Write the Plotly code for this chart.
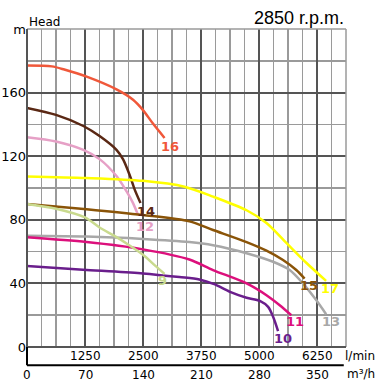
import plotly.graph_objects as go

# ---- data (Q in m3/h, H in m) ----
names = ["16", "14", "12", "17", "15", "13", "11", "10", "9"]
colors = ["#f0583a", "#5a2814", "#e6a0c6", "#ffff00", "#8a5408", "#a8a8a8", "#dc107c", "#6a1e8c", "#c9da8e"]

q16 = [0, 30, 45, 72, 108, 128, 140, 152, 166]
h16 = [177, 176.5, 174.5, 170, 162, 155.5, 149, 140.5, 131.5]
q14 = [0, 35, 68, 88, 108, 116, 124, 130, 137]
h14 = [150.4, 146, 139, 132.5, 124, 118, 108, 99, 90.5]
q12 = [0, 35, 68, 88, 108, 120, 128, 134]
h12 = [132, 129.3, 124, 118, 107.5, 98, 90.5, 83]
q17 = [0, 72, 140, 190, 224.5, 265, 289, 313, 337, 361]
h17 = [107.3, 106.3, 104.5, 100.8, 94.6, 86, 78, 65.5, 53, 41.6]
q15 = [0, 72, 140, 196, 224.5, 265, 289, 309, 325, 335]
h15 = [90, 86.7, 83, 79, 73.6, 66, 60.6, 54.7, 48.4, 43]
q13 = [0, 72, 140, 196, 224.5, 265, 297, 317, 333, 349, 361]
h13 = [70, 69.5, 68, 66, 64, 59, 53.6, 48.4, 40, 29.5, 20.6]
q11 = [0, 72, 140, 196, 224.5, 265, 289, 305, 319]
h11 = [69, 66, 61.4, 55, 48.4, 40, 32.6, 26.3, 20]
q10 = [0, 72, 140, 184, 208, 226, 245, 265, 281, 291, 297, 303]
h10 = [51, 48.4, 46.3, 44, 42.5, 39.5, 34.7, 31, 29, 25.2, 19, 10]
q9 = [0, 35, 70, 88, 105, 122, 140, 155, 166]
h9 = [90, 87, 81.5, 75, 70, 64.5, 58, 51, 46]

qs = [q16, q14, q12, q17, q15, q13, q11, q10, q9]
hs = [h16, h14, h12, h17, h15, h13, h11, h10, h9]

# curve label positions (Q, H)
label_q = [172, 144, 142, 366, 340, 366.5, 323.7, 309, 164]
label_h = [126, 85.4, 76, 37, 38.7, 15.8, 15.8, 5.2, 42]

m3h_ticks = [0, 70, 140, 210, 280, 350]
m3h_text = ["0", "70", "140", "210", "280", "350"]
lmin_ticks = [70, 140, 210, 280, 350]
lmin_text = ["1250", "2500", "3750", "5000", "6250"]
y_ticks = [0, 40, 80, 120, 160, 200]
y_text = ["0", "40", "80", "120", "160", "m"]

XMAX, YMAX = 385, 200
FONT = "DejaVu Sans"

fig = go.Figure()
for n, c, q, h in zip(names, colors, qs, hs):
    fig.add_trace(go.Scatter(x=q, y=h, mode="lines", name=n,
                             line=dict(color=c, width=2.5, shape="spline", smoothing=0.8),
                             hoverinfo="skip"))

ann = []
for n, c, lq, lh in zip(names, colors, label_q, label_h):
    ann.append(dict(x=lq, y=lh, xref="x", yref="y", text=f"<b>{n}</b>", showarrow=False,
                    font=dict(family=FONT, size=13, color=c), xanchor="center", yanchor="middle"))
for v, t in zip(lmin_ticks, lmin_text):
    ann.append(dict(x=v, y=-0.029, xref="x", yref="paper", text=t, showarrow=False,
                    font=dict(family=FONT, size=12, color="black"), xanchor="center", yanchor="middle"))
for v, t in zip(m3h_ticks, m3h_text):
    ann.append(dict(x=v, y=-0.089, xref="x", yref="paper", text=t, showarrow=False,
                    font=dict(family=FONT, size=12, color="black"), xanchor="center", yanchor="middle"))
ann.append(dict(x=1.0, y=-0.029, xref="paper", yref="paper", text="l/min", showarrow=False,
                font=dict(family=FONT, size=12, color="black"), xanchor="left", yanchor="middle", xshift=-3))
ann.append(dict(x=1.0, y=-0.085, xref="paper", yref="paper", text="m³/h", showarrow=False,
                font=dict(family=FONT, size=12, color="black"), xanchor="left", yanchor="middle", xshift=-1))
ann.append(dict(x=0.0, y=1.023, xref="paper", yref="paper", text="Head", showarrow=False,
                font=dict(family=FONT, size=12, color="black"), xanchor="left", yanchor="middle"))
ann.append(dict(x=1.0, y=1.036, xref="paper", yref="paper", text="2850 r.p.m.", showarrow=False,
                font=dict(family="Liberation Sans", size=18, color="black"), xanchor="right", yanchor="middle"))

shapes = [
    dict(type="line", xref="paper", yref="paper", x0=0, x1=1, y0=1, y1=1, line=dict(color="#9a9a9a", width=1.5)),
    dict(type="line", xref="paper", yref="paper", x0=1, x1=1, y0=0, y1=1, line=dict(color="#9a9a9a", width=1.5)),
    dict(type="line", xref="paper", yref="paper", x0=0, x1=1, y0=0, y1=0, line=dict(color="#555555", width=2)),
    dict(type="line", xref="paper", yref="paper", x0=0, x1=0, y0=0, y1=1, line=dict(color="#555555", width=2)),
    dict(type="line", xref="paper", yref="paper", x0=0, x1=0, y0=0, y1=-0.0577, line=dict(color="black", width=2)),
    dict(type="line", xref="paper", yref="paper", x0=0, x1=0.993, y0=-0.0577, y1=-0.0577, line=dict(color="black", width=2)),
]

fig.update_layout(
    width=378, height=381,
    margin=dict(l=27, r=32, t=29, b=34, autoexpand=False),
    paper_bgcolor="white", plot_bgcolor="white",
    showlegend=False,
    annotations=ann, shapes=shapes,
    font=dict(family=FONT, size=12, color="black"),
    xaxis=dict(range=[0, XMAX], tickmode="linear", tick0=0, dtick=70, showticklabels=False,
               automargin=False,
               showgrid=True, gridcolor="#555555", gridwidth=2, zeroline=False, showline=False, ticks="",
               minor=dict(tickmode="linear", tick0=0, dtick=17.5, showgrid=True,
                          gridcolor="#9a9a9a", gridwidth=1.5)),
    yaxis=dict(range=[0, YMAX], tickmode="array", tickvals=y_ticks, ticktext=y_text,
               automargin=False,
               showgrid=True, gridcolor="#555555", gridwidth=2, zeroline=False, showline=False, ticks="",
               tickfont=dict(family=FONT, size=13),
               minor=dict(tickmode="linear", tick0=0, dtick=20, showgrid=True,
                          gridcolor="#9a9a9a", gridwidth=1.5)),
)

fig.write_html("out.html", config={"displayModeBar": False, "staticPlot": True},
               post_script="document.body.style.margin='0';document.body.style.overflow='hidden';")
